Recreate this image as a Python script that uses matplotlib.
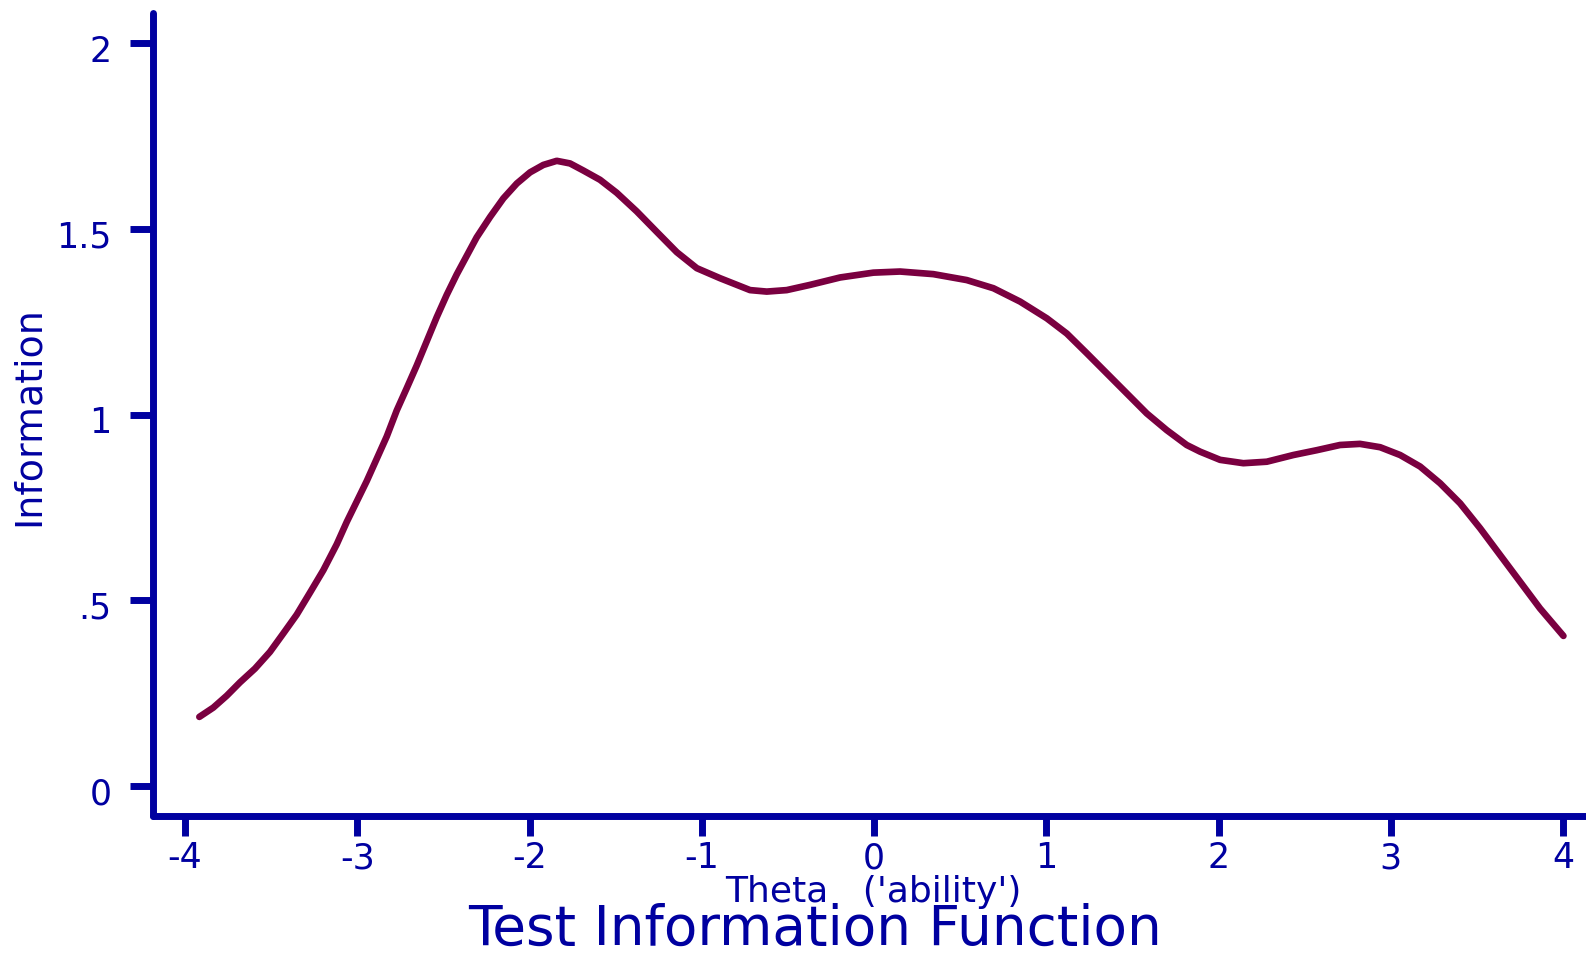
import matplotlib
matplotlib.use("Agg")
import matplotlib.pyplot as plt
from matplotlib.transforms import ScaledTranslation

plt.rcParams['font.family'] = ['DejaVu Sans']

theta = [-3.917, -3.836, -3.758, -3.681, -3.594, -3.507, -3.429, -3.352, -3.274,
         -3.197, -3.119, -3.061, -3.003, -2.945, -2.887, -2.829, -2.771, -2.713,
         -2.655, -2.597, -2.539, -2.481, -2.423, -2.365, -2.307, -2.229, -2.152,
         -2.074, -1.997, -1.920, -1.842, -1.765, -1.688, -1.591, -1.494, -1.378,
         -1.262, -1.145, -1.029, -0.894, -0.720, -0.623, -0.507, -0.372, -0.197,
         -0.004, 0.151, 0.344, 0.538, 0.693, 0.848, 1.003, 1.119, 1.235, 1.351,
         1.467, 1.583, 1.699, 1.815, 1.893, 2.009, 2.144, 2.280, 2.434, 2.570,
         2.705, 2.821, 2.938, 3.054, 3.170, 3.286, 3.402, 3.518, 3.634, 3.750,
         3.866, 4.002]
information = [0.186, 0.211, 0.243, 0.279, 0.316, 0.361, 0.411, 0.461, 0.521,
               0.581, 0.651, 0.711, 0.766, 0.821, 0.881, 0.941, 1.011, 1.071,
               1.132, 1.197, 1.262, 1.322, 1.377, 1.427, 1.477, 1.532, 1.582,
               1.622, 1.652, 1.672, 1.683, 1.676, 1.657, 1.632, 1.597, 1.547,
               1.492, 1.437, 1.394, 1.367, 1.335, 1.331, 1.335, 1.349, 1.369,
               1.382, 1.385, 1.378, 1.362, 1.340, 1.304, 1.259, 1.218, 1.165,
               1.111, 1.057, 1.003, 0.958, 0.918, 0.900, 0.878, 0.869, 0.873,
               0.891, 0.904, 0.918, 0.921, 0.912, 0.891, 0.860, 0.815, 0.761,
               0.694, 0.622, 0.550, 0.478, 0.404]
xticks = [-4, -3, -2, -1, 0, 1, 2, 3, 4]
xticklabels = ['-4', '-3', '-2', '-1', '0', '1', '2', '3', '4']
yticks = [0, 0.5, 1, 1.5, 2]
yticklabels = ['0', '.5', '1', '1.5', '2']

W, H = 1586, 957
navy = '#0000A0'
fig = plt.figure(figsize=(W / 100, H / 100), dpi=100)
ax = fig.add_axes([153 / W, (H - 815.7) / H, (W - 153) / W, (815.7 - 13) / H])

ax.plot(theta, information, color='#7A0040', lw=4.8, solid_capstyle='round',
        solid_joinstyle='round')
ax.set_xlim(-4.186, 4.133)
ax.set_ylim(-0.08, 2.081)

for s in ['top', 'right']:
    ax.spines[s].set_visible(False)
for s in ['left', 'bottom']:
    ax.spines[s].set_color(navy)
    ax.spines[s].set_linewidth(5)
    ax.spines[s].set_capstyle('round')

ax.set_xticks(xticks)
ax.set_xticklabels(xticklabels)
ax.set_yticks(yticks)
ax.set_yticklabels(yticklabels)
ax.tick_params(axis='x', length=14.5, width=5, color=navy, labelcolor=navy,
               labelsize=25, pad=4)
ax.tick_params(axis='y', length=16.5, width=5, color=navy, labelcolor=navy,
               labelsize=25, pad=13.5)
off = ScaledTranslation(0, -5 / 100, fig.dpi_scale_trans)
for lbl in ax.get_yticklabels():
    lbl.set_transform(lbl.get_transform() + off)

fig.text(873 / W, 1 - 902 / H, "Theta   ('ability')", color=navy, fontsize=26,
         ha='center', va='baseline')
fig.text(815 / W, 0.5 / H, "Test Information Function", color=navy,
         fontsize=39.5, ha='center', va='bottom')
fig.text(39 / W, 1 - 416 / H, "Information", color=navy, fontsize=27.3,
         rotation=90, ha='center', va='baseline', rotation_mode='anchor')

fig.savefig('out.png', dpi=100)
